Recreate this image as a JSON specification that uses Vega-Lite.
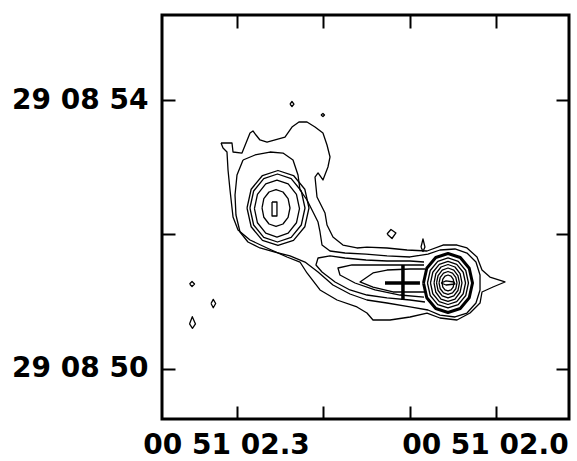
{
"$schema":"https://vega.github.io/schema/vega-lite/v6.json",
"width":407,"height":404,"autosize":"none",
"padding":{"left":162,"top":15,"right":8,"bottom":42},
"background":"white",
"config":{"view":{"stroke":"black","strokeWidth":3},
"axis":{"domain":false,"grid":false,"labelFont":"DejaVu Sans","labelFontWeight":"bold","labelFontSize":28,"labelColor":"black","tickColor":"black","tickWidth":2,"tickSize":-13,"title":null,"labelFlush":false,"labelOverlap":false,"labelBound":false}},
"datasets":{
"contours":[
{"c":"C1","o":1,"x":2.3185,"y":53.360},{"c":"C1","o":2,"x":2.3058,"y":53.360},{"c":"C1","o":3,"x":2.3046,"y":53.226},{"c":"C1","o":4,"x":2.2942,"y":53.211},{"c":"C1","o":5,"x":2.2849,"y":53.509},{"c":"C1","o":6,"x":2.2815,"y":53.539},{"c":"C1","o":7,"x":2.2780,"y":53.479},{"c":"C1","o":8,"x":2.2734,"y":53.405},{"c":"C1","o":9,"x":2.2652,"y":53.375},{"c":"C1","o":10,"x":2.2444,"y":53.449},{"c":"C1","o":11,"x":2.2363,"y":53.598},{"c":"C1","o":12,"x":2.2282,"y":53.673},{"c":"C1","o":13,"x":2.2189,"y":53.673},{"c":"C1","o":14,"x":2.2096,"y":53.598},{"c":"C1","o":15,"x":2.2004,"y":53.509},{"c":"C1","o":16,"x":2.1957,"y":53.330},{"c":"C1","o":17,"x":2.1922,"y":53.152},{"c":"C1","o":18,"x":2.1946,"y":53.003},{"c":"C1","o":19,"x":2.2004,"y":52.810},{"c":"C1","o":20,"x":2.2061,"y":52.914},{"c":"C1","o":21,"x":2.2096,"y":52.854},{"c":"C1","o":22,"x":2.2073,"y":52.557},{"c":"C1","o":23,"x":2.1980,"y":52.318},{"c":"C1","o":24,"x":2.1957,"y":52.140},{"c":"C1","o":25,"x":2.1888,"y":51.961},{"c":"C1","o":26,"x":2.1772,"y":51.842},{"c":"C1","o":27,"x":2.1610,"y":51.798},{"c":"C1","o":28,"x":2.1494,"y":51.812},{"c":"C1","o":29,"x":2.1262,"y":51.798},{"c":"C1","o":30,"x":2.1030,"y":51.768},{"c":"C1","o":31,"x":2.0798,"y":51.753},{"c":"C1","o":32,"x":2.0613,"y":51.842},{"c":"C1","o":33,"x":2.0451,"y":51.842},{"c":"C1","o":34,"x":2.0335,"y":51.798},{"c":"C1","o":35,"x":2.0219,"y":51.664},{"c":"C1","o":36,"x":2.0161,"y":51.470},{"c":"C1","o":37,"x":2.0069,"y":51.366},{"c":"C1","o":38,"x":1.9895,"y":51.292},{"c":"C1","o":39,"x":2.0034,"y":51.217},{"c":"C1","o":40,"x":2.0161,"y":51.143},{"c":"C1","o":41,"x":2.0184,"y":50.979},{"c":"C1","o":42,"x":2.0300,"y":50.830},{"c":"C1","o":43,"x":2.0451,"y":50.726},{"c":"C1","o":44,"x":2.0648,"y":50.756},{"c":"C1","o":45,"x":2.0798,"y":50.830},{"c":"C1","o":46,"x":2.0995,"y":50.771},{"c":"C1","o":47,"x":2.1227,"y":50.726},{"c":"C1","o":48,"x":2.1424,"y":50.726},{"c":"C1","o":49,"x":2.1494,"y":50.830},{"c":"C1","o":50,"x":2.1610,"y":50.920},{"c":"C1","o":51,"x":2.1841,"y":51.024},{"c":"C1","o":52,"x":2.2038,"y":51.173},{"c":"C1","o":53,"x":2.2189,"y":51.426},{"c":"C1","o":54,"x":2.2270,"y":51.589},{"c":"C1","o":55,"x":2.2421,"y":51.664},{"c":"C1","o":56,"x":2.2652,"y":51.798},{"c":"C1","o":57,"x":2.2849,"y":51.917},{"c":"C1","o":58,"x":2.2988,"y":52.065},{"c":"C1","o":59,"x":2.3046,"y":52.259},{"c":"C1","o":60,"x":2.3081,"y":52.661},{"c":"C1","o":61,"x":2.3104,"y":52.958},{"c":"C1","o":62,"x":2.3116,"y":53.226},{"c":"C1","o":63,"x":2.3162,"y":53.286},{"c":"C1","o":64,"x":2.3185,"y":53.360},
{"c":"C2","o":1,"x":2.2930,"y":53.107},{"c":"C2","o":2,"x":2.2791,"y":53.182},{"c":"C2","o":3,"x":2.2618,"y":53.226},{"c":"C2","o":4,"x":2.2467,"y":53.211},{"c":"C2","o":5,"x":2.2351,"y":53.107},{"c":"C2","o":6,"x":2.2293,"y":52.884},{"c":"C2","o":7,"x":2.2270,"y":52.661},{"c":"C2","o":8,"x":2.2189,"y":52.512},{"c":"C2","o":9,"x":2.2119,"y":52.333},{"c":"C2","o":10,"x":2.2061,"y":52.184},{"c":"C2","o":11,"x":2.2038,"y":52.036},{"c":"C2","o":12,"x":2.2015,"y":51.842},{"c":"C2","o":13,"x":2.1922,"y":51.753},{"c":"C2","o":14,"x":2.1749,"y":51.723},{"c":"C2","o":15,"x":2.1505,"y":51.708},{"c":"C2","o":16,"x":2.1262,"y":51.679},{"c":"C2","o":17,"x":2.0995,"y":51.664},{"c":"C2","o":18,"x":2.0787,"y":51.708},{"c":"C2","o":19,"x":2.0648,"y":51.768},{"c":"C2","o":20,"x":2.0474,"y":51.783},{"c":"C2","o":21,"x":2.0335,"y":51.723},{"c":"C2","o":22,"x":2.0231,"y":51.589},{"c":"C2","o":23,"x":2.0184,"y":51.396},{"c":"C2","o":24,"x":2.0184,"y":51.173},{"c":"C2","o":25,"x":2.0231,"y":50.979},{"c":"C2","o":26,"x":2.0335,"y":50.830},{"c":"C2","o":27,"x":2.0474,"y":50.771},{"c":"C2","o":28,"x":2.0648,"y":50.800},{"c":"C2","o":29,"x":2.0787,"y":50.875},{"c":"C2","o":30,"x":2.0995,"y":50.920},{"c":"C2","o":31,"x":2.1262,"y":50.979},{"c":"C2","o":32,"x":2.1494,"y":51.024},{"c":"C2","o":33,"x":2.1691,"y":51.113},{"c":"C2","o":34,"x":2.1888,"y":51.247},{"c":"C2","o":35,"x":2.2061,"y":51.441},{"c":"C2","o":36,"x":2.2212,"y":51.589},{"c":"C2","o":37,"x":2.2386,"y":51.679},{"c":"C2","o":38,"x":2.2560,"y":51.738},{"c":"C2","o":39,"x":2.2734,"y":51.798},{"c":"C2","o":40,"x":2.2873,"y":51.887},{"c":"C2","o":41,"x":2.2965,"y":52.036},{"c":"C2","o":42,"x":2.3012,"y":52.289},{"c":"C2","o":43,"x":2.3023,"y":52.586},{"c":"C2","o":44,"x":2.3000,"y":52.884},{"c":"C2","o":45,"x":2.2930,"y":53.107},
{"c":"O1","o":1,"x":2.2594,"y":52.482},{"c":"O1","o":2,"x":2.2537,"y":52.482},{"c":"O1","o":3,"x":2.2537,"y":52.274},{"c":"O1","o":4,"x":2.2594,"y":52.274},{"c":"O1","o":5,"x":2.2594,"y":52.482},
{"c":"O2","o":1,"x":2.2710,"y":52.393},{"c":"O2","o":2,"x":2.2689,"y":52.531},{"c":"O2","o":3,"x":2.2629,"y":52.631},{"c":"O2","o":4,"x":2.2548,"y":52.668},{"c":"O2","o":5,"x":2.2467,"y":52.631},{"c":"O2","o":6,"x":2.2408,"y":52.531},{"c":"O2","o":7,"x":2.2386,"y":52.393},{"c":"O2","o":8,"x":2.2408,"y":52.255},{"c":"O2","o":9,"x":2.2467,"y":52.155},{"c":"O2","o":10,"x":2.2548,"y":52.118},{"c":"O2","o":11,"x":2.2629,"y":52.155},{"c":"O2","o":12,"x":2.2689,"y":52.255},{"c":"O2","o":13,"x":2.2710,"y":52.393},
{"c":"O3","o":1,"x":2.2798,"y":52.385},{"c":"O3","o":2,"x":2.2763,"y":52.597},{"c":"O3","o":3,"x":2.2667,"y":52.752},{"c":"O3","o":4,"x":2.2537,"y":52.809},{"c":"O3","o":5,"x":2.2407,"y":52.752},{"c":"O3","o":6,"x":2.2311,"y":52.597},{"c":"O3","o":7,"x":2.2276,"y":52.385},{"c":"O3","o":8,"x":2.2311,"y":52.173},{"c":"O3","o":9,"x":2.2407,"y":52.018},{"c":"O3","o":10,"x":2.2537,"y":51.961},{"c":"O3","o":11,"x":2.2667,"y":52.018},{"c":"O3","o":12,"x":2.2763,"y":52.173},{"c":"O3","o":13,"x":2.2798,"y":52.385},
{"c":"O4","o":1,"x":2.2850,"y":52.393},{"c":"O4","o":2,"x":2.2807,"y":52.646},{"c":"O4","o":3,"x":2.2690,"y":52.831},{"c":"O4","o":4,"x":2.2531,"y":52.899},{"c":"O4","o":5,"x":2.2372,"y":52.831},{"c":"O4","o":6,"x":2.2255,"y":52.646},{"c":"O4","o":7,"x":2.2212,"y":52.393},{"c":"O4","o":8,"x":2.2255,"y":52.140},{"c":"O4","o":9,"x":2.2372,"y":51.955},{"c":"O4","o":10,"x":2.2531,"y":51.887},{"c":"O4","o":11,"x":2.2690,"y":51.955},{"c":"O4","o":12,"x":2.2807,"y":52.140},{"c":"O4","o":13,"x":2.2850,"y":52.393},
{"c":"O5","o":1,"x":2.2884,"y":52.393},{"c":"O5","o":2,"x":2.2836,"y":52.672},{"c":"O5","o":3,"x":2.2705,"y":52.876},{"c":"O5","o":4,"x":2.2525,"y":52.951},{"c":"O5","o":5,"x":2.2345,"y":52.876},{"c":"O5","o":6,"x":2.2214,"y":52.672},{"c":"O5","o":7,"x":2.2166,"y":52.393},{"c":"O5","o":8,"x":2.2214,"y":52.114},{"c":"O5","o":9,"x":2.2345,"y":51.910},{"c":"O5","o":10,"x":2.2525,"y":51.835},{"c":"O5","o":11,"x":2.2705,"y":51.910},{"c":"O5","o":12,"x":2.2836,"y":52.114},{"c":"O5","o":13,"x":2.2884,"y":52.393},
{"c":"T1","o":1,"x":2.0822,"y":51.485},{"c":"T1","o":2,"x":2.0995,"y":51.485},{"c":"T1","o":3,"x":2.1262,"y":51.470},{"c":"T1","o":4,"x":2.1424,"y":51.426},{"c":"T1","o":5,"x":2.1575,"y":51.292},{"c":"T1","o":6,"x":2.1424,"y":51.217},{"c":"T1","o":7,"x":2.1192,"y":51.143},{"c":"T1","o":8,"x":2.0961,"y":51.143},{"c":"T1","o":9,"x":2.0822,"y":51.143},
{"c":"T3","o":1,"x":2.0833,"y":51.589},{"c":"T3","o":2,"x":2.0995,"y":51.604},{"c":"T3","o":3,"x":2.1262,"y":51.604},{"c":"T3","o":4,"x":2.1505,"y":51.619},{"c":"T3","o":5,"x":2.1749,"y":51.649},{"c":"T3","o":6,"x":2.1922,"y":51.679},{"c":"T3","o":7,"x":2.2061,"y":51.649},{"c":"T3","o":8,"x":2.2085,"y":51.545},{"c":"T3","o":9,"x":2.2015,"y":51.441},{"c":"T3","o":10,"x":2.1864,"y":51.292},{"c":"T3","o":11,"x":2.1691,"y":51.173},{"c":"T3","o":12,"x":2.1494,"y":51.098},{"c":"T3","o":13,"x":2.1262,"y":51.054},{"c":"T3","o":14,"x":2.0995,"y":51.024},{"c":"T3","o":15,"x":2.0822,"y":50.994},
{"c":"T4","o":1,"x":2.0833,"y":51.545},{"c":"T4","o":2,"x":2.1111,"y":51.545},{"c":"T4","o":3,"x":2.1401,"y":51.545},{"c":"T4","o":4,"x":2.1667,"y":51.545},{"c":"T4","o":5,"x":2.1830,"y":51.500},{"c":"T4","o":6,"x":2.1807,"y":51.396},{"c":"T4","o":7,"x":2.1633,"y":51.277},{"c":"T4","o":8,"x":2.1401,"y":51.173},{"c":"T4","o":9,"x":2.1111,"y":51.098},{"c":"T4","o":10,"x":2.0833,"y":51.068},
{"c":"R1","o":1,"x":2.0636,"y":51.277},{"c":"R1","o":2,"x":2.0578,"y":51.307},{"c":"R1","o":3,"x":2.0486,"y":51.292},{"c":"R1","o":4,"x":2.0474,"y":51.262},{"c":"R1","o":5,"x":2.0578,"y":51.247},{"c":"R1","o":6,"x":2.0636,"y":51.277},
{"c":"R2","o":1,"x":2.0624,"y":51.277},{"c":"R2","o":2,"x":2.0615,"y":51.336},{"c":"R2","o":3,"x":2.0590,"y":51.380},{"c":"R2","o":4,"x":2.0555,"y":51.396},{"c":"R2","o":5,"x":2.0520,"y":51.380},{"c":"R2","o":6,"x":2.0495,"y":51.336},{"c":"R2","o":7,"x":2.0486,"y":51.277},{"c":"R2","o":8,"x":2.0495,"y":51.217},{"c":"R2","o":9,"x":2.0520,"y":51.174},{"c":"R2","o":10,"x":2.0555,"y":51.158},{"c":"R2","o":11,"x":2.0590,"y":51.174},{"c":"R2","o":12,"x":2.0615,"y":51.217},{"c":"R2","o":13,"x":2.0624,"y":51.277},
{"c":"R3","o":1,"x":2.0659,"y":51.277},{"c":"R3","o":2,"x":2.0645,"y":51.362},{"c":"R3","o":3,"x":2.0607,"y":51.425},{"c":"R3","o":4,"x":2.0555,"y":51.448},{"c":"R3","o":5,"x":2.0503,"y":51.425},{"c":"R3","o":6,"x":2.0465,"y":51.362},{"c":"R3","o":7,"x":2.0451,"y":51.277},{"c":"R3","o":8,"x":2.0465,"y":51.191},{"c":"R3","o":9,"x":2.0503,"y":51.129},{"c":"R3","o":10,"x":2.0555,"y":51.106},{"c":"R3","o":11,"x":2.0607,"y":51.129},{"c":"R3","o":12,"x":2.0645,"y":51.191},{"c":"R3","o":13,"x":2.0659,"y":51.277},
{"c":"R4","o":1,"x":2.0688,"y":51.277},{"c":"R4","o":2,"x":2.0670,"y":51.388},{"c":"R4","o":3,"x":2.0622,"y":51.470},{"c":"R4","o":4,"x":2.0555,"y":51.500},{"c":"R4","o":5,"x":2.0488,"y":51.470},{"c":"R4","o":6,"x":2.0440,"y":51.388},{"c":"R4","o":7,"x":2.0422,"y":51.277},{"c":"R4","o":8,"x":2.0440,"y":51.165},{"c":"R4","o":9,"x":2.0488,"y":51.084},{"c":"R4","o":10,"x":2.0555,"y":51.054},{"c":"R4","o":11,"x":2.0622,"y":51.084},{"c":"R4","o":12,"x":2.0670,"y":51.165},{"c":"R4","o":13,"x":2.0688,"y":51.277},
{"c":"R5","o":1,"x":2.0717,"y":51.277},{"c":"R5","o":2,"x":2.0696,"y":51.415},{"c":"R5","o":3,"x":2.0636,"y":51.515},{"c":"R5","o":4,"x":2.0555,"y":51.552},{"c":"R5","o":5,"x":2.0474,"y":51.515},{"c":"R5","o":6,"x":2.0415,"y":51.415},{"c":"R5","o":7,"x":2.0393,"y":51.277},{"c":"R5","o":8,"x":2.0415,"y":51.139},{"c":"R5","o":9,"x":2.0474,"y":51.038},{"c":"R5","o":10,"x":2.0555,"y":51.002},{"c":"R5","o":11,"x":2.0636,"y":51.038},{"c":"R5","o":12,"x":2.0696,"y":51.139},{"c":"R5","o":13,"x":2.0717,"y":51.277},
{"c":"R6","o":1,"x":2.0758,"y":51.277},{"c":"R6","o":2,"x":2.0731,"y":51.437},{"c":"R6","o":3,"x":2.0656,"y":51.554},{"c":"R6","o":4,"x":2.0555,"y":51.597},{"c":"R6","o":5,"x":2.0454,"y":51.554},{"c":"R6","o":6,"x":2.0379,"y":51.437},{"c":"R6","o":7,"x":2.0352,"y":51.277},{"c":"R6","o":8,"x":2.0379,"y":51.117},{"c":"R6","o":9,"x":2.0454,"y":51.000},{"c":"R6","o":10,"x":2.0555,"y":50.957},{"c":"R6","o":11,"x":2.0656,"y":51.000},{"c":"R6","o":12,"x":2.0731,"y":51.117},{"c":"R6","o":13,"x":2.0758,"y":51.277},
{"c":"R7","o":1,"x":2.0793,"y":51.277},{"c":"R7","o":2,"x":2.0761,"y":51.463},{"c":"R7","o":3,"x":2.0674,"y":51.599},{"c":"R7","o":4,"x":2.0555,"y":51.649},{"c":"R7","o":5,"x":2.0436,"y":51.599},{"c":"R7","o":6,"x":2.0349,"y":51.463},{"c":"R7","o":7,"x":2.0318,"y":51.277},{"c":"R7","o":8,"x":2.0349,"y":51.091},{"c":"R7","o":9,"x":2.0436,"y":50.955},{"c":"R7","o":10,"x":2.0555,"y":50.905},{"c":"R7","o":11,"x":2.0674,"y":50.955},{"c":"R7","o":12,"x":2.0761,"y":51.091},{"c":"R7","o":13,"x":2.0793,"y":51.277},
{"c":"R8","o":1,"x":2.0839,"y":51.277},{"c":"R8","o":2,"x":2.0801,"y":51.496},{"c":"R8","o":3,"x":2.0697,"y":51.657},{"c":"R8","o":4,"x":2.0555,"y":51.716},{"c":"R8","o":5,"x":2.0413,"y":51.657},{"c":"R8","o":6,"x":2.0309,"y":51.496},{"c":"R8","o":7,"x":2.0271,"y":51.277},{"c":"R8","o":8,"x":2.0309,"y":51.057},{"c":"R8","o":9,"x":2.0413,"y":50.897},{"c":"R8","o":10,"x":2.0555,"y":50.838},{"c":"R8","o":11,"x":2.0697,"y":50.897},{"c":"R8","o":12,"x":2.0801,"y":51.057},{"c":"R8","o":13,"x":2.0839,"y":51.277},
{"c":"S1","o":1,"x":2.2386,"y":53.940},{"c":"S1","o":2,"x":2.2363,"y":53.978},{"c":"S1","o":3,"x":2.2340,"y":53.940},{"c":"S1","o":4,"x":2.2363,"y":53.903},{"c":"S1","o":5,"x":2.2386,"y":53.940},
{"c":"S2","o":1,"x":2.2027,"y":53.777},{"c":"S2","o":2,"x":2.2004,"y":53.799},{"c":"S2","o":3,"x":2.1986,"y":53.777},{"c":"S2","o":4,"x":2.2004,"y":53.754},{"c":"S2","o":5,"x":2.2027,"y":53.777},
{"c":"S3","o":1,"x":2.1262,"y":52.006},{"c":"S3","o":2,"x":2.1216,"y":52.073},{"c":"S3","o":3,"x":2.1158,"y":52.021},{"c":"S3","o":4,"x":2.1204,"y":51.939},{"c":"S3","o":5,"x":2.1262,"y":52.006},
{"c":"S4","o":1,"x":2.0868,"y":51.812},{"c":"S4","o":2,"x":2.0845,"y":51.932},{"c":"S4","o":3,"x":2.0822,"y":51.812},{"c":"S4","o":4,"x":2.0845,"y":51.746},{"c":"S4","o":5,"x":2.0868,"y":51.812},
{"c":"S5","o":1,"x":2.3550,"y":51.262},{"c":"S5","o":2,"x":2.3521,"y":51.299},{"c":"S5","o":3,"x":2.3492,"y":51.262},{"c":"S5","o":4,"x":2.3521,"y":51.225},{"c":"S5","o":5,"x":2.3550,"y":51.262},
{"c":"S6","o":1,"x":2.3301,"y":50.972},{"c":"S6","o":2,"x":2.3275,"y":51.034},{"c":"S6","o":3,"x":2.3247,"y":50.972},{"c":"S6","o":4,"x":2.3275,"y":50.909},{"c":"S6","o":5,"x":2.3301,"y":50.972},
{"c":"S7","o":1,"x":2.3550,"y":50.667},{"c":"S7","o":2,"x":2.3518,"y":50.775},{"c":"S7","o":3,"x":2.3481,"y":50.667},{"c":"S7","o":4,"x":2.3516,"y":50.603},{"c":"S7","o":5,"x":2.3550,"y":50.667}
],
"cross":[
{"x":2.1285,"x2":2.0880,"y":51.277,"y2":51.277},
{"x":2.1077,"x2":2.1077,"y":51.545,"y2":51.024}
]},
"layer":[
{"data":{"name":"contours"},"transform":[{"filter":"datum.c !== 'R8'"}],
"mark":{"type":"line","stroke":"black","strokeWidth":1.3,"strokeJoin":"round"},
"encoding":{
"x":{"field":"x","type":"quantitative","scale":{"domain":[1.9153,2.3869],"reverse":true,"zero":false,"nice":false},
"axis":{"orient":"bottom","values":[2.3,2.2,2.1,2.0],"labelExpr":"datum.value > 2.25 ? '00 51 02.3' : (datum.value < 2.05 ? '00 51 02.0' : '')","labelPadding":25,"labelOffset":-11}},
"y":{"field":"y","type":"quantitative","scale":{"domain":[49.253,55.265],"zero":false,"nice":false},
"axis":{"orient":"left","values":[50,52,54],"labelExpr":"datum.value > 53 ? '29 08 54' : (datum.value < 51 ? '29 08 50' : '')","labelPadding":27}},
"detail":{"field":"c"},"order":{"field":"o"}}},
{"data":{"name":"contours"},"transform":[{"filter":"datum.c === 'R8'"}],
"mark":{"type":"line","stroke":"black","strokeWidth":3,"strokeJoin":"round"},
"encoding":{"x":{"field":"x","type":"quantitative","axis":null},"y":{"field":"y","type":"quantitative","axis":null},"detail":{"field":"c"},"order":{"field":"o"}}},
{"data":{"name":"cross"},"mark":{"type":"rule","stroke":"black","strokeWidth":3.5},
"encoding":{
"x":{"field":"x","type":"quantitative","axis":{"orient":"top","values":[2.3,2.2,2.1,2.0],"labels":false}},
"x2":{"field":"x2"},
"y":{"field":"y","type":"quantitative","axis":{"orient":"right","values":[50,52,54],"labels":false}},
"y2":{"field":"y2"}}}
],
"resolve":{"axis":{"x":"independent","y":"independent"}}
}
